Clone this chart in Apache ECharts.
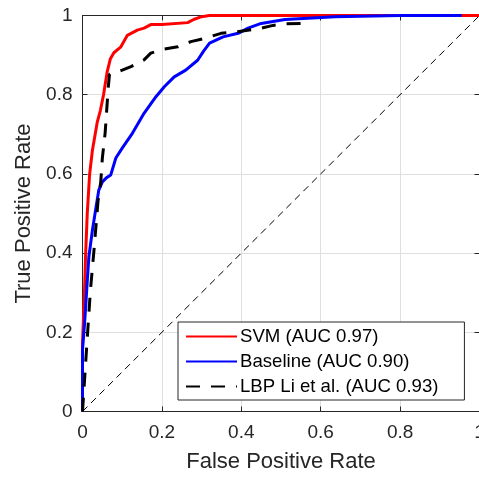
<!DOCTYPE html>
<html>
<head>
<meta charset="utf-8">
<script src="https://cdn.jsdelivr.net/npm/echarts@6/dist/echarts.min.js"></script>
<style>html,body{margin:0;padding:0;background:#fff}#c{width:479px;height:478px}</style>
</head>
<body>
<div id="c"></div>
<script>
var seriesNames = ['SVM (AUC 0.97)', 'Baseline (AUC 0.90)', 'LBP Li et al. (AUC 0.93)'];
var ticks = [0, 0.2, 0.4, 0.6, 0.8, 1];

var svmFpr = [0, 0, 0.001, 0.003, 0.005, 0.008, 0.012, 0.018, 0.025, 0.037, 0.045, 0.053, 0.062, 0.07, 0.079, 0.096, 0.113, 0.138, 0.155, 0.172, 0.20, 0.265, 0.28, 0.30, 0.32, 1];
var svmTpr = [0, 0.17, 0.2, 0.25, 0.3, 0.4, 0.5, 0.6, 0.66, 0.73, 0.76, 0.80, 0.857, 0.89, 0.906, 0.92, 0.95, 0.963, 0.968, 0.977, 0.977, 0.982, 0.99, 0.997, 1.0, 1.0];

var baseFpr = [0, 0, 0.005, 0.008, 0.012, 0.016, 0.025, 0.033, 0.041, 0.05, 0.06, 0.071, 0.084, 0.10, 0.126, 0.155, 0.185, 0.206, 0.231, 0.26, 0.29, 0.305, 0.32, 0.354, 0.392, 0.417, 0.45, 0.51, 0.636, 0.80, 0.955];
var baseTpr = [0, 0.155, 0.22, 0.265, 0.33, 0.39, 0.458, 0.509, 0.559, 0.58, 0.59, 0.597, 0.64, 0.665, 0.703, 0.753, 0.795, 0.82, 0.845, 0.862, 0.887, 0.91, 0.93, 0.946, 0.955, 0.968, 0.98, 0.99, 0.997, 1.0, 1.0];

var lbpFpr = [0, 0.01, 0.02, 0.029, 0.039, 0.046, 0.05, 0.057, 0.065, 0.068, 0.085, 0.10, 0.122, 0.155, 0.172, 0.206, 0.24, 0.273, 0.307, 0.349, 0.39, 0.45, 0.48, 0.51, 0.556];
var lbpTpr = [0, 0.155, 0.307, 0.408, 0.53, 0.58, 0.64, 0.703, 0.82, 0.852, 0.857, 0.862, 0.871, 0.888, 0.905, 0.915, 0.921, 0.934, 0.942, 0.955, 0.959, 0.968, 0.975, 0.979, 0.98];

var diagX = [0, 1];
var diagY = [0, 1];

function pairs(xs, ys) { return xs.map(function (x, i) { return [x, ys[i]]; }); }

var axisColor = '#262626';
var font = 'Liberation Sans, Arial, sans-serif';

function mkAxis(isX, pos, showLabel) {
  return {
    type: 'value', min: 0, max: 1, interval: 0.2, position: pos,
    axisLine: { show: true, onZero: false, lineStyle: { color: axisColor, width: 1 } },
    axisTick: { show: true, inside: true, length: 5, lineStyle: { color: axisColor } },
    axisLabel: { show: showLabel, color: axisColor, fontSize: 19, fontFamily: font, margin: isX ? 12 : 10 },
    splitLine: { show: showLabel, lineStyle: { color: '#dfdfdf', width: 1 } }
  };
}

var xA = mkAxis(true, 'bottom', true);
xA.name = 'False Positive Rate'; xA.nameLocation = 'middle'; xA.nameGap = 39;
xA.nameTextStyle = { color: axisColor, fontSize: 22, fontFamily: font };
var yA = mkAxis(false, 'left', true);
yA.name = 'True Positive Rate'; yA.nameLocation = 'middle'; yA.nameGap = 44;
yA.nameTextStyle = { color: axisColor, fontSize: 22, fontFamily: font };
var xTop = mkAxis(true, 'top', false);
var yRight = mkAxis(false, 'right', false);

var chart = echarts.init(document.getElementById('c'), null, { renderer: 'canvas' });
chart.setOption({
  animation: false,
  backgroundColor: '#fff',
  grid: { left: 82.5, top: 15.5, width: 397, height: 396, show: false, containLabel: false, outerBoundsMode: 'none' },
  xAxis: [xA, xTop],
  yAxis: [yA, yRight],
  legend: {
    data: seriesNames,
    orient: 'vertical',
    left: 178, top: 322,
    padding: [5, 26, 4, 7],
    itemWidth: 51, itemHeight: 14, itemGap: 6,
    backgroundColor: '#fff',
    borderColor: axisColor, borderWidth: 1, borderRadius: 0,
    textStyle: { color: '#000', fontSize: 18.6, fontFamily: font, padding: [0, 0, 0, -2] },
    itemStyle: { color: 'transparent', borderColor: 'transparent', borderWidth: 0 }
  },
  series: [
    { name: 'diag', type: 'line', data: pairs(diagX, diagY), showSymbol: false, symbol: 'none', silent: true,
      lineStyle: { color: '#000', width: 1, type: [7, 5] }, z: 1 },
    { name: seriesNames[0], type: 'line', data: pairs(svmFpr, svmTpr), showSymbol: false, symbol: 'none',
      lineStyle: { color: '#ff0000', width: 3, join: 'round' }, itemStyle: { color: '#ff0000' }, z: 2 },
    { name: seriesNames[1], type: 'line', data: pairs(baseFpr, baseTpr), showSymbol: false, symbol: 'none',
      lineStyle: { color: '#0000ff', width: 3, join: 'round' }, itemStyle: { color: '#0000ff' }, z: 3 },
    { name: seriesNames[2], type: 'line', data: pairs(lbpFpr, lbpTpr), showSymbol: false, symbol: 'none',
      lineStyle: { color: '#000', width: 3, type: [14, 11] }, itemStyle: { color: '#000' }, z: 4 }
  ]
});
</script>
</body>
</html>
